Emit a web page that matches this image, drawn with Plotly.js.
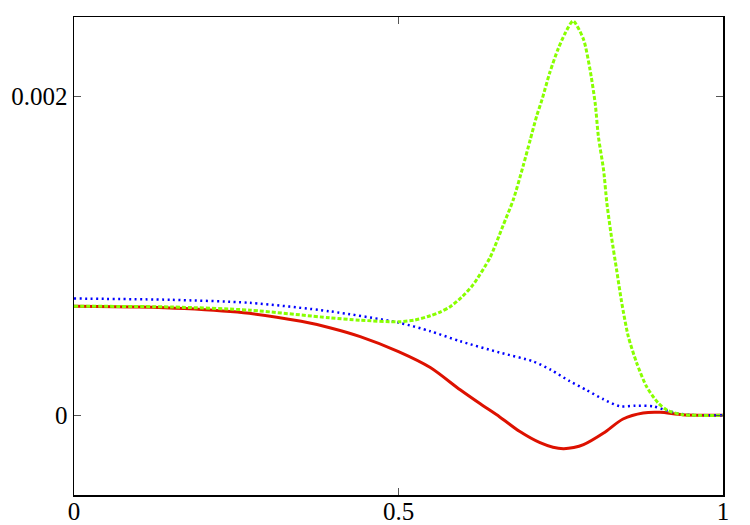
<!DOCTYPE html>
<html>
<head>
<meta charset="utf-8">
<script src="https://cdn.plot.ly/plotly-3.0.1.min.js"></script>
<style>
  html, body { margin: 0; padding: 0; background: #fff; }
  #chart { width: 750px; height: 525px; }
</style>
</head>
<body>
<div id="chart"></div>
<script>
// values
var red_x = [0, 0.1, 0.17, 0.27, 0.35, 0.394, 0.441, 0.5, 0.549, 0.595, 0.626, 0.656, 0.687, 0.718, 0.738, 0.754, 0.77, 0.785, 0.816, 0.846, 0.877, 0.903, 0.938, 1];
var red_y = [0.000685, 0.00068, 0.00067, 0.00064, 0.00059, 0.00055, 0.000494, 0.0004, 0.0003, 0.00016, 0.000072, -0.00001, -0.000102, -0.000172, -0.000200, -0.000209, -0.000202, -0.000184, -0.000111, -0.000023, 0.000015, 0.000019, 0.000004, 0];

var blue_x = [0, 0.15, 0.271, 0.394, 0.5, 0.549, 0.595, 0.656, 0.707, 0.735, 0.764, 0.79, 0.816, 0.841, 0.865, 0.892, 0.91, 0.93, 0.95, 1];
var blue_y = [0.000733, 0.000725, 0.000706, 0.000653, 0.000582, 0.000528, 0.000465, 0.000394, 0.000339, 0.000285, 0.000214, 0.000158, 0.0001, 0.000057, 0.00006, 0.000057, 0.000035, 0.000012, 0.000002, 0];

var green_x = [0, 0.15, 0.271, 0.394, 0.441, 0.5, 0.525, 0.549, 0.565, 0.579, 0.597, 0.615, 0.641, 0.661, 0.677, 0.692, 0.703, 0.713, 0.721, 0.733, 0.746, 0.757, 0.769,
               0.785, 0.795, 0.803, 0.808, 0.816, 0.821, 0.828, 0.836, 0.844, 0.854, 0.867, 0.882, 0.9, 0.915, 0.938, 1];
var green_y = [0.000685, 0.00068, 0.00066, 0.000612, 0.000597, 0.000587, 0.000598, 0.000625, 0.00065, 0.00068, 0.00074, 0.00082, 0.00099, 0.00119, 0.001355, 0.001564, 0.00173, 0.00188, 0.00198, 0.00215, 0.0023, 0.0024, 0.002475,
               0.00236, 0.002172, 0.00196, 0.00175, 0.00154, 0.001334, 0.001124, 0.000915, 0.000706, 0.000496, 0.000329, 0.000182, 0.000078, 0.00003, 0.000004, 0];

var x_ticks = [0, 0.5, 1];
var x_tick_labels = ["0", "0.5", "1"];
var y_ticks = [0, 0.002];
var y_tick_labels = ["0", "0.002"];

var data = [
  {
    x: red_x, y: red_y, mode: "lines",
    line: {color: "#dd1100", width: 3, shape: "spline", smoothing: 0.8},
    hoverinfo: "x+y"
  },
  {
    x: blue_x, y: blue_y, mode: "lines",
    line: {color: "#0000ff", width: 2.5, dash: "2px,3.5px", shape: "spline", smoothing: 0.7},
    hoverinfo: "x+y"
  },
  {
    x: green_x, y: green_y, mode: "lines",
    line: {color: "#88ff00", width: 3, dash: "4px,2px", shape: "spline", smoothing: 0.7},
    hoverinfo: "x+y"
  }
];

var axis_style = {
  showgrid: false,
  zeroline: false,
  showline: true,
  linecolor: "#000",
  linewidth: 1.5,
  mirror: "ticks",
  ticks: "inside",
  ticklen: 7,
  tickcolor: "#555",
  tickwidth: 1.2,
  tickmode: "array",
  tickfont: {family: "Liberation Serif", size: 25, color: "#000"}
};

var layout = {
  width: 750,
  height: 525,
  margin: {l: 74, r: 27, t: 17, b: 30},
  paper_bgcolor: "#fff",
  plot_bgcolor: "#fff",
  showlegend: false,
  xaxis: Object.assign({}, axis_style, {
    range: [0, 1], tickvals: x_ticks, ticktext: x_tick_labels,
    ticklabelstandoff: -7
  }),
  yaxis: Object.assign({}, axis_style, {
    range: [-0.0005, 0.0025], tickvals: y_ticks, ticktext: y_tick_labels
  })
};

Plotly.newPlot("chart", data, layout, {displayModeBar: false, staticPlot: true});
</script>
</body>
</html>
